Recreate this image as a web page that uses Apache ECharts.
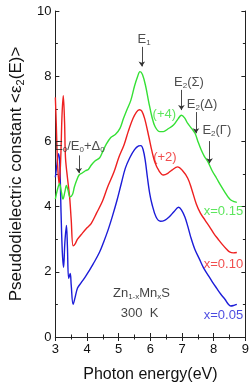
<!DOCTYPE html>
<html><head><meta charset="utf-8">
<script src="https://cdn.jsdelivr.net/npm/echarts@6/dist/echarts.min.js"></script>
<style>html,body{margin:0;padding:0;background:#fff}#c{width:252px;height:388px}</style>
</head><body><div id="c"></div>
<script>
// Displayed curves (already shifted by the offsets shown on the chart)
const green015 = [[3.0,4.23],[3.06,4.5],[3.13,4.7],[3.19,4.45],[3.24,4.23],[3.3,4.45],[3.35,4.65],[3.4,4.5],[3.46,4.3],[3.54,4.37],[3.6,4.6],[3.67,4.8],[3.75,4.97],[3.85,5.03],[3.95,5.1],[4.04,5.14],[4.13,5.27],[4.25,5.4],[4.4,5.5],[4.5,5.7],[4.6,5.9],[4.75,6.12],[4.9,6.22],[5.04,6.4],[5.15,6.7],[5.25,6.95],[5.38,7.25],[5.5,7.7],[5.6,8.0],[5.67,8.14],[5.75,8.05],[5.85,7.7],[5.95,7.2],[6.05,6.75],[6.15,6.45],[6.3,6.3],[6.41,6.3],[6.55,6.38],[6.73,6.5],[6.88,6.7],[6.98,6.8],[7.08,6.72],[7.18,6.55],[7.3,6.4],[7.41,6.25],[7.5,6.0],[7.6,5.75],[7.7,5.55],[7.82,5.37],[7.95,5.1],[8.09,4.87],[8.22,4.65],[8.36,4.43],[8.45,4.3],[8.54,4.2],[8.64,4.15],[8.73,4.13]];
const red010 = [[3.0,7.35],[3.03,6.5],[3.07,5.3],[3.12,4.7],[3.17,5.5],[3.21,6.8],[3.25,7.4],[3.29,6.6],[3.32,5.5],[3.38,4.9],[3.45,4.3],[3.5,3.6],[3.56,2.8],[3.62,2.85],[3.7,3.0],[3.85,3.18],[4.0,3.35],[4.13,3.48],[4.3,3.8],[4.49,4.17],[4.65,4.6],[4.85,5.06],[5.0,5.5],[5.17,5.9],[5.3,6.3],[5.45,6.7],[5.56,6.9],[5.65,6.97],[5.73,6.93],[5.82,6.7],[5.95,6.15],[6.05,5.7],[6.14,5.37],[6.27,5.1],[6.41,4.97],[6.55,5.02],[6.68,5.12],[6.86,5.22],[7.0,5.12],[7.18,4.87],[7.3,4.55],[7.45,4.08],[7.58,3.8],[7.73,3.58],[7.87,3.38],[8.0,3.18],[8.14,3.0],[8.27,2.84],[8.4,2.7],[8.5,2.61],[8.62,2.58],[8.73,2.59]];
const blue005 = [[3.0,4.9],[3.05,5.3],[3.1,5.62],[3.14,5.3],[3.18,3.8],[3.22,2.6],[3.26,2.14],[3.3,2.9],[3.35,3.42],[3.38,2.8],[3.42,1.8],[3.47,1.95],[3.5,1.6],[3.56,1.0],[3.62,1.2],[3.7,1.5],[3.81,1.66],[3.95,1.85],[4.04,1.99],[4.2,2.25],[4.39,2.59],[4.52,2.9],[4.66,3.27],[4.8,3.7],[4.94,4.17],[5.08,4.7],[5.21,5.18],[5.35,5.5],[5.5,5.75],[5.63,5.86],[5.7,5.87],[5.77,5.75],[5.84,5.4],[5.91,4.87],[5.98,4.4],[6.05,4.08],[6.18,3.68],[6.32,3.55],[6.45,3.58],[6.59,3.68],[6.75,3.85],[6.89,3.98],[6.98,3.9],[7.09,3.68],[7.18,3.4],[7.27,3.08],[7.4,2.7],[7.55,2.39],[7.68,2.12],[7.82,1.9],[7.95,1.7],[8.09,1.5],[8.22,1.32],[8.36,1.15],[8.45,1.02],[8.54,0.95],[8.64,0.97],[8.73,1.0]];

const xTicks = [3,4,5,6,7,8,9];
const yTicks = [0,2,4,6,8,10];

// Annotation texts and their anchor points (data coordinates)
const annoText = ['E{s|1}', 'E{s|2}(Σ)', 'E{s|2}(Δ)', 'E{s|2}(Γ)', 'E{s|0}/E{s|0}+Δ{s|0}'];
const annoPos = [[5.8,9.12],[7.22,7.82],[7.63,7.13],[8.1,6.33],[3.76,5.85]];
const arrowFrom = [[5.73,8.9],[6.98,7.58],[7.44,6.9],[7.87,6.01],[3.74,5.57]];
const arrowTo = [[5.73,8.3],[6.98,6.96],[7.44,6.25],[7.87,5.33],[3.74,5.03]];

const curveText = ['(+4)','(+2)'];
const curveTextPos = [[6.44,6.82],[6.46,5.51]];
const compText = ['x=0.15','x=0.10','x=0.05'];
const compPos = [[8.93,3.84],[8.93,2.23],[8.93,0.65]];
const sampleText = ['Zn{s|1-x}Mn{s|x}S', '300  K'];
const samplePos = [[5.72,1.33],[5.66,0.71]];

const GREEN = '#35e035', RED = '#ee2020', BLUE = '#1c1cd8';
const FONT = 'Liberation Sans, Arial, sans-serif';

const chart = echarts.init(document.getElementById('c'), null, {renderer:'canvas'});
const axisLineStyle = {color:'#222', width:1};
function textSeries(texts, pos, color, fontSize, position) {
  return {
    type:'scatter', symbolSize:0, silent:true, z:5,
    data: pos.map((p,i)=>({value:p, name:texts[i]})),
    label:{show:true, position: position, distance:0, formatter: p=>p.name,
      color: color, fontSize:fontSize, fontFamily:FONT,
      rich: {s:{fontSize:Math.round(fontSize*0.62), color: color, verticalAlign:'bottom', padding:[Math.round(fontSize*0.5),0,0,0], fontFamily:FONT}}}
  };
}
const compSeries = {
  type:'scatter', symbolSize:0, silent:true, z:5,
  data: compPos.map((p,i)=>({value:p, name:compText[i], label:{color:[GREEN,RED,BLUE][i]}})),
  label:{show:true, position:'left', distance:0, formatter:p=>p.name, fontSize:13, fontFamily:FONT}
};
const curveSeries = {
  type:'scatter', symbolSize:0, silent:true, z:5,
  data: curveTextPos.map((p,i)=>({value:p, name:curveText[i], label:{color:[GREEN,RED][i]}})),
  label:{show:true, position:'inside', formatter:p=>p.name, fontSize:13, fontFamily:FONT}
};
chart.setOption({
  animation:false,
  grid:{left:30, right:2, top:11, bottom:41, containLabel:false},
  xAxis:[{
    type:'value', min:3, max:9, interval:1, position:'bottom',
    name:'Photon energy(eV)', nameLocation:'middle', nameGap:30,
    nameTextStyle:{fontSize:16, color:'#111', fontFamily:FONT},
    axisLine:{show:true, lineStyle:axisLineStyle},
    axisTick:{show:true, inside:true, length:4, lineStyle:axisLineStyle},
    minorTick:{show:true, splitNumber:2, length:2.5, lineStyle:axisLineStyle},
    axisLabel:{fontSize:13, color:'#111', margin:6, fontFamily:FONT,
      formatter:v=>xTicks.includes(v)?String(v):''},
    splitLine:{show:false}
  },{
    type:'value', min:3, max:9, interval:1, position:'top',
    axisLine:{show:true, lineStyle:axisLineStyle},
    axisTick:{show:true, inside:true, length:4, lineStyle:axisLineStyle},
    minorTick:{show:true, splitNumber:2, length:2.5, lineStyle:axisLineStyle},
    axisLabel:{show:false}, splitLine:{show:false}
  }],
  yAxis:[{
    type:'value', min:0, max:10, interval:2, position:'left',
    name:'Pseudodielectric constant <ε{s|2}(E)>', nameLocation:'middle', nameGap:13,
    nameTextStyle:{fontSize:17, color:'#111', fontFamily:FONT,
      rich:{s:{fontSize:11, color:'#111', verticalAlign:'bottom', padding:[8,0,0,0], fontFamily:FONT}}},
    axisLine:{show:true, lineStyle:axisLineStyle},
    axisTick:{show:true, inside:true, length:4, lineStyle:axisLineStyle},
    minorTick:{show:true, splitNumber:2, length:2.5, lineStyle:axisLineStyle},
    axisLabel:{fontSize:13, color:'#111', margin:4, fontFamily:FONT,
      formatter:v=>yTicks.includes(v)?String(v):''},
    splitLine:{show:false}
  },{
    type:'value', min:0, max:10, interval:2, position:'right',
    axisLine:{show:true, lineStyle:axisLineStyle},
    axisTick:{show:true, inside:true, length:4, lineStyle:axisLineStyle},
    minorTick:{show:true, splitNumber:2, length:2.5, lineStyle:axisLineStyle},
    axisLabel:{show:false}, splitLine:{show:false}
  }],
  series:[
    {type:'line', data:blue005, smooth:0.35, showSymbol:false, lineStyle:{color:BLUE, width:1.4}, z:3},
    {type:'line', data:red010, smooth:0.35, showSymbol:false, lineStyle:{color:RED, width:1.4}, z:3},
    {type:'line', data:green015, smooth:0.35, showSymbol:false, lineStyle:{color:GREEN, width:1.4}, z:3},
    {type:'lines', coordinateSystem:'cartesian2d', silent:true, z:4,
      symbol:['none','arrow'], symbolSize:[0,5],
      lineStyle:{color:'#333', width:0.9, opacity:1},
      data: arrowFrom.map((f,i)=>({coords:[f, arrowTo[i]]}))},
    textSeries(annoText, annoPos, '#222', 13, 'inside'),
    textSeries(sampleText, samplePos, '#111', 13, 'inside'),
    compSeries,
    curveSeries
  ]
});
</script></body></html>
